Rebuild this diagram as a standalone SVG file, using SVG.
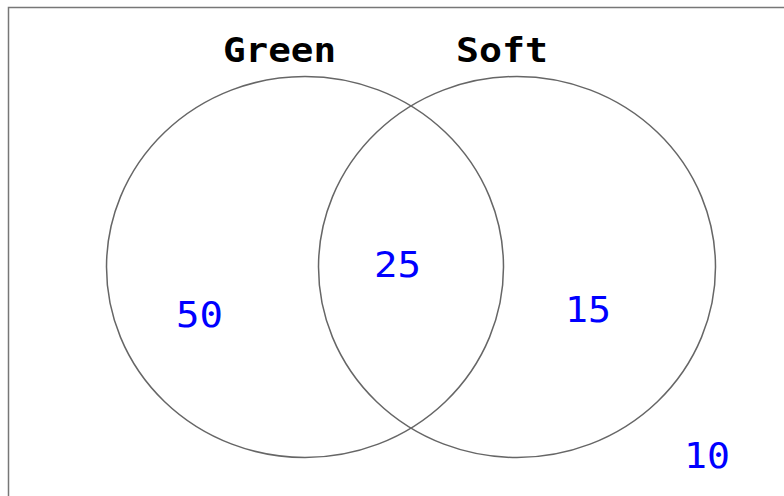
<svg xmlns="http://www.w3.org/2000/svg" width="784" height="496" viewBox="0 0 784 496">
<style>
.frame{fill:none;stroke:#777;stroke-width:1.5}
.set{fill:none;stroke:#666;stroke-width:1.5}
.title{font-family:"DejaVu Sans Mono",monospace;font-weight:bold;font-size:33px;fill:#000}
.num{font-family:"DejaVu Sans Mono",monospace;font-size:35px;fill:#0000ff}
</style>
<rect width="784" height="496" fill="#fff"/>
<rect class="frame" x="8.5" y="7.5" width="790" height="500"/>
<g id="connectors"></g>
<g id="set-green">
<ellipse class="set" cx="305" cy="267" rx="198.5" ry="190.5"/>
<text class="title" x="223" y="62" textLength="113" lengthAdjust="spacingAndGlyphs">Green</text>
</g>
<g id="set-soft">
<ellipse class="set" cx="517" cy="267" rx="198.5" ry="190.5"/>
<text class="title" x="456" y="62" textLength="92" lengthAdjust="spacingAndGlyphs">Soft</text>
</g>
<g id="region-green-only"><text class="num" x="176" y="327" textLength="47" lengthAdjust="spacingAndGlyphs">50</text></g>
<g id="region-both"><text class="num" x="374" y="277" textLength="47" lengthAdjust="spacingAndGlyphs">25</text></g>
<g id="region-soft-only"><text class="num" x="565" y="322" textLength="46" lengthAdjust="spacingAndGlyphs">15</text></g>
<g id="region-neither"><text class="num" x="684" y="468" textLength="46" lengthAdjust="spacingAndGlyphs">10</text></g>
</svg>
